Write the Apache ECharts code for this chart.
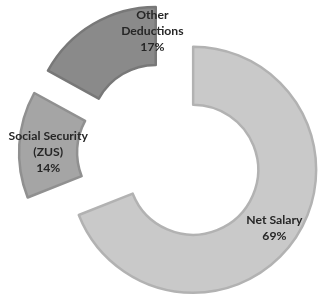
<!DOCTYPE html>
<html><head><meta charset="utf-8">
<script src="https://cdn.jsdelivr.net/npm/echarts@6/dist/echarts.min.js"></script>
<style>html,body{margin:0;padding:0;background:#fff}#c{width:318px;height:297px}</style>
</head><body><div id="c"></div>
<script>
const categories = ["Net Salary", "Social Security\n(ZUS)", "Other\nDeductions"];
const values = [69, 14, 17];
const fills = ["#c9c9c9", "#a5a5a5", "#8a8a8a"];
const borders = ["#b2b2b2", "#909090", "#787878"];
const labelShift = [[1, 4], [3, 6], [46, -15]];

const chart = echarts.init(document.getElementById('c'), null, {renderer: 'canvas'});
const data = categories.map((n, i) => ({
  name: n, value: values[i], selected: true,
  itemStyle: {color: fills[i], borderColor: borders[i], borderWidth: 2.5}
}));
chart.setOption({
  animation: false,
  backgroundColor: '#fff',
  series: [{
    type: 'pie',
    center: [170, 154],
    radius: [65, 123],
    startAngle: 90,
    clockwise: true,
    selectedMode: 'multiple',
    selectedOffset: 28,
    avoidLabelOverlap: false,
    emphasis: {disabled: true},
    label: {
      show: true, position: 'inside',
      formatter: p => p.name + '\n' + p.value + '%',
      fontFamily: 'Lato', fontWeight: 'bold', fontSize: 12.2,
      lineHeight: 16, color: '#262626'
    },
    labelLayout: p => ({dx: labelShift[p.dataIndex][0], dy: labelShift[p.dataIndex][1]}),
    labelLine: {show: false},
    data: data
  }]
});
</script></body></html>
